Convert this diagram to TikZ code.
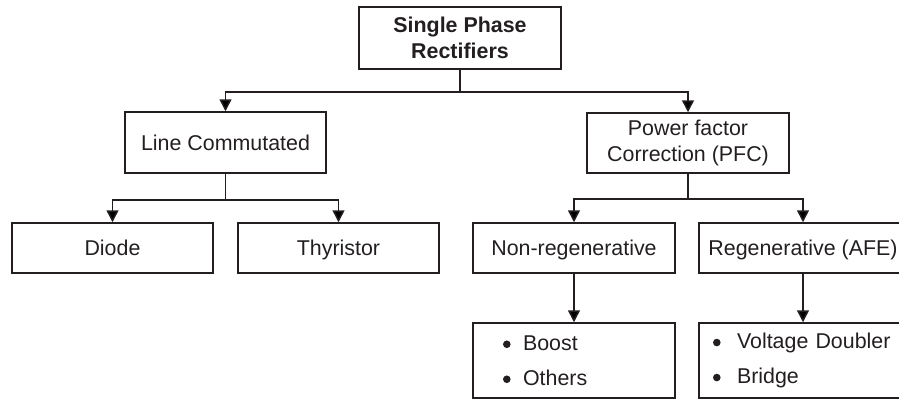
\documentclass[tikz,border=0pt]{standalone}
\usepackage{fontspec}
\setmainfont{Liberation Sans}
\usetikzlibrary{arrows.meta}
\definecolor{ink}{HTML}{231F20}
\newcommand\bul[1]{\makebox[#1][l]{\tikz[baseline=0pt]\fill[ink] (4pt,6pt) circle (3.8pt);}}
\begin{document}
\begin{tikzpicture}[x=1pt,y=-1pt,
  every node/.style={text=ink},
  box/.style={draw=ink, line width=1.5pt, align=center, inner sep=0pt,
    font=\fontsize{21.4}{26}\selectfont},
  one/.style={box, text height=16pt, text depth=1pt},
  listbox/.style={box, align=left, inner ysep=0pt},
  conn/.style={draw=ink, line width=1.5pt},
  arr/.style={conn, -{Triangle[width=12pt,length=12pt]}}]
\useasboundingbox (0,0) rectangle (899,400);
\clip (0,0) rectangle (899,400);
\node[box, minimum width=202pt, minimum height=62pt, font=\fontsize{21.4}{26}\selectfont\bfseries] (top) at (460,38) {Single Phase\\Rectifiers};
\node[one, minimum width=201pt, minimum height=61pt] (lc) at (225.5,142.5) {Line Commutated};
\node[box, minimum width=202pt, minimum height=60pt] (pfc) at (688,143) {Power factor\\Correction (PFC)};
\node[one, minimum width=201pt, minimum height=50pt] (diode) at (112.5,248) {Diode};
\node[one, minimum width=201pt, minimum height=50pt] (thy) at (338.5,248) {Thyristor};
\node[one, minimum width=202pt, minimum height=50pt] (nonreg) at (574,248) {Non-regenerative};
\node[one, minimum width=208pt, minimum height=50pt] (reg) at (803,248) {Regenerative (AFE)};
\node[listbox, minimum height=75pt, text width=142pt, inner xsep=30pt] (nb) at (574,360.5) {\bul{20pt}Boost\\[9pt]\bul{20pt}Others};
\node[listbox, minimum height=75pt, text width=180pt, inner xsep=14pt] (rb) at (803,360.5) {\bul{24pt}Voltage Doubler\\[9pt]\bul{24pt}Bridge};
\draw[arr] (top.south) -- ++(0,22) -| (lc.north);
\draw[arr] (top.south) -- ++(0,22) -| (pfc.north);
\draw[arr] (lc.south) -- ++(0,26) -| (diode.north);
\draw[arr] (lc.south) -- ++(0,26) -| (thy.north);
\draw[arr] (pfc.south) -- ++(0,25) -| (nonreg.north);
\draw[arr] (pfc.south) -- ++(0,25) -| (reg.north);
\draw[arr] (nonreg.south) -- (nb.north);
\draw[arr] (reg.south) -- (rb.north);
\end{tikzpicture}
\end{document}
